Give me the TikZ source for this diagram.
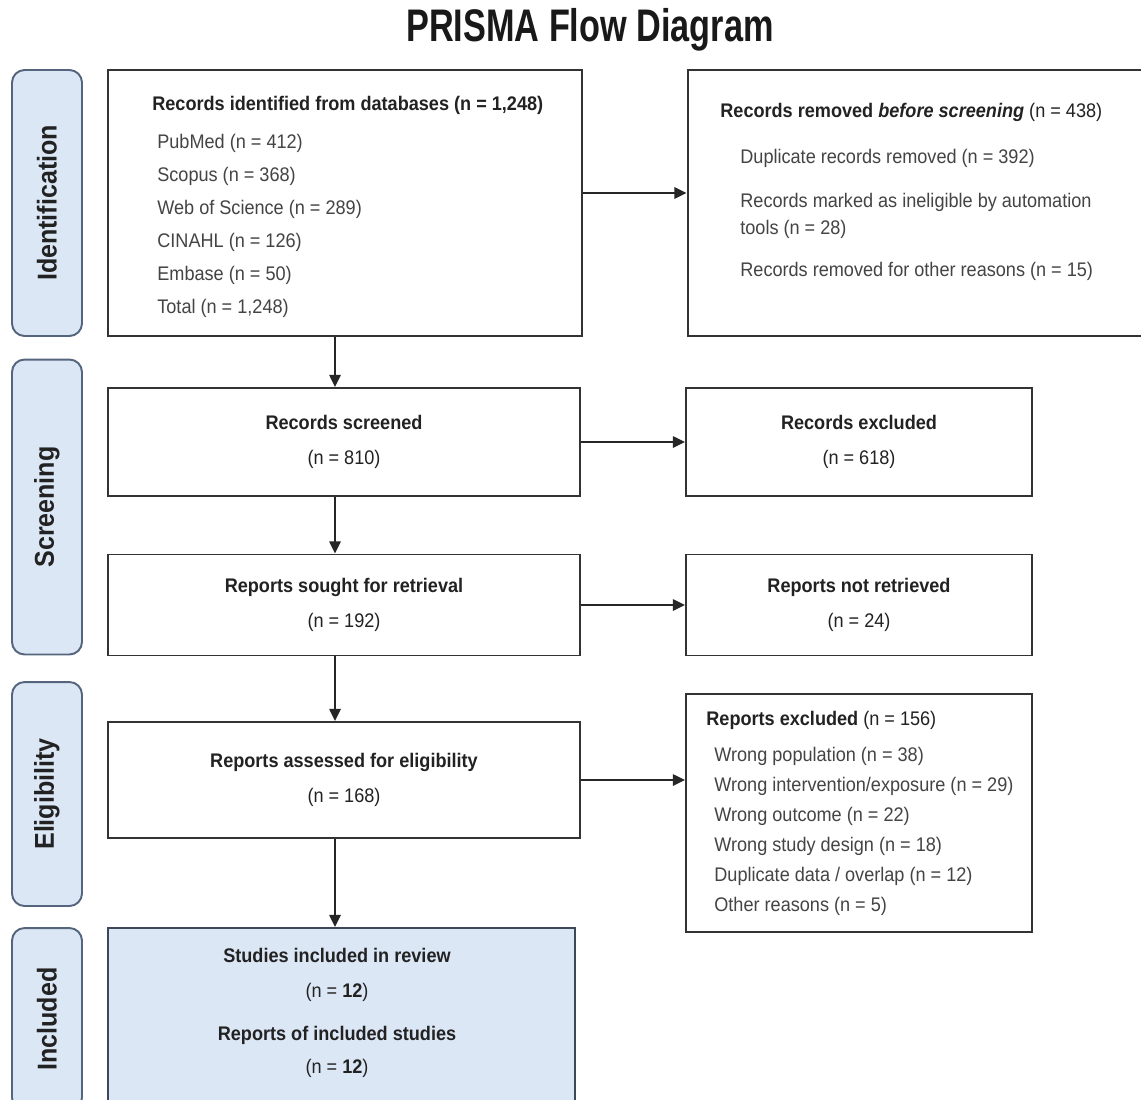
\documentclass[tikz,border=0pt]{standalone}
\usepackage{fontspec}
\setmainfont[FakeStretch=0.92]{Liberation Sans}
\newfontfamily\titlefont[FakeStretch=0.75]{Liberation Sans}
\usetikzlibrary{arrows.meta}
\definecolor{framegray}{HTML}{333333}
\definecolor{phasefill}{HTML}{DCE7F6}
\definecolor{phaseedge}{HTML}{56657E}
\definecolor{textdark}{HTML}{222222}
\definecolor{textsoft}{HTML}{444444}
\tikzset{
  box/.style={draw=framegray, line width=1.1pt, fill=white, inner sep=0pt,
              align=center, font=\fontsize{11.2}{20}\selectfont, text=textdark},
  phase/.style={draw=phaseedge, fill=phasefill, line width=1.1pt, rounded corners=0.25cm,
                rotate=90, minimum height=1.4cm, inner sep=0pt,
                font=\fontsize{15.5}{18}\selectfont\bfseries, text=textdark},
  head/.style={anchor=west, inner sep=0pt, font=\fontsize{11.2}{14}\selectfont, text=textdark},
  item/.style={anchor=west, inner sep=0pt, align=left,
               font=\fontsize{11.2}{15.4}\selectfont, text=textsoft},
  flow/.style={-{Triangle[length=7pt,width=6.5pt]}, line width=1.1pt, draw=black!85},
}

\begin{document}
\begin{tikzpicture}[x=0.02cm, y=-0.02cm]
    \path[use as bounding box, fill=white] (0,0) rectangle (1141,1099);
    \node[font=\titlefont\fontsize{26}{30}\selectfont\bfseries, text=black!90] (title) at (590,30) {PRISMA Flow Diagram};

    \node[phase, minimum width=5.32cm] (idphase) at (47,203) {Identification};
    \node[phase, minimum width=5.9cm] (scphase) at (47,507) {Screening};
    \node[phase, minimum width=4.48cm] (elphase) at (47,794) {Eligibility};
    \node[phase, minimum width=3.64cm] (inphase) at (47,1019) {Included};

    \node[box, minimum width=9.48cm, minimum height=5.32cm] (idbox) at (345,203) {};
    \node[head] (idhead) at (152,105) {\textbf{Records identified from databases (n = 1,248)}};
    \foreach \t [count=\i] in {PubMed (n = 412), Scopus (n = 368), Web of Science (n = 289),
                               CINAHL (n = 126), Embase (n = 50), {Total (n = 1,248)}}
      \node[item] (db\i) at (157,110+33*\i) {\t};

    \node[box, minimum width=9.14cm, minimum height=5.32cm] (removed) at (916,203) {};
    \node[head] (rmhead) at (720,112) {\textbf{Records removed \textit{before screening}} (n = 438)};
    \node[item] (rm1) at (740,158) {Duplicate records removed (n = 392)};
    \node[item] (rm2) at (740,216) {Records marked as ineligible by automation\\tools (n = 28)};
    \node[item] (rm3) at (740,271) {Records removed for other reasons (n = 15)};

    \node[box, minimum width=9.44cm, minimum height=2.16cm] (screened) at (344,442) {\textbf{Records screened}\\(n = 810)};
    \node[box, minimum width=6.92cm, minimum height=2.16cm] (recexcl) at (859,442) {\textbf{Records excluded}\\(n = 618)};
    \node[box, minimum width=9.44cm, minimum height=2.02cm] (sought) at (344,605) {\textbf{Reports sought for retrieval}\\(n = 192)};
    \node[box, minimum width=6.92cm, minimum height=2.02cm] (notretr) at (859,605) {\textbf{Reports not retrieved}\\(n = 24)};
    \node[box, minimum width=9.44cm, minimum height=2.32cm] (assessed) at (344,780) {\textbf{Reports assessed for eligibility}\\(n = 168)};

    \node[box, minimum width=6.92cm, minimum height=4.76cm] (repexcl) at (859,813) {};
    \node[head] (rehead) at (706,720) {\textbf{Reports excluded} (n = 156)};
    \foreach \t [count=\i] in {Wrong population (n = 38), Wrong intervention/exposure (n = 29),
                               Wrong outcome (n = 22), Wrong study design (n = 18),
                               Duplicate data / overlap (n = 12), Other reasons (n = 5)}
      \node[item] (re\i) at (714,726+30*\i) {\t};

    \node[box, fill=phasefill, draw=phaseedge!70!black, minimum width=9.34cm, minimum height=3.64cm] (included) at (341.5,1019) {};
    \node[align=center, font=\fontsize{11.2}{19}\selectfont, text=textdark] (inctext) at (337,1013)
      {\textbf{Studies included in review}\\[1pt](n = \textbf{12})\\[5pt]\textbf{Reports of included studies}\\(n = \textbf{12})};

    \coordinate (spine) at (335,0);
    \draw[flow] (idbox.south -| spine) -- (screened.north -| spine);
    \draw[flow] (screened.south -| spine) -- (sought.north -| spine);
    \draw[flow] (sought.south -| spine) -- (assessed.north -| spine);
    \draw[flow] (assessed.south -| spine) -- (included.north -| spine);
    \draw[flow] ([yshift=0.2cm]idbox.east) -- ([yshift=0.2cm]removed.west);
    \draw[flow] (screened.east) -- (recexcl.west);
    \draw[flow] (sought.east) -- (notretr.west);
    \draw[flow] (assessed.east) -- (assessed.east -| repexcl.west);
\end{tikzpicture}
\end{document}
